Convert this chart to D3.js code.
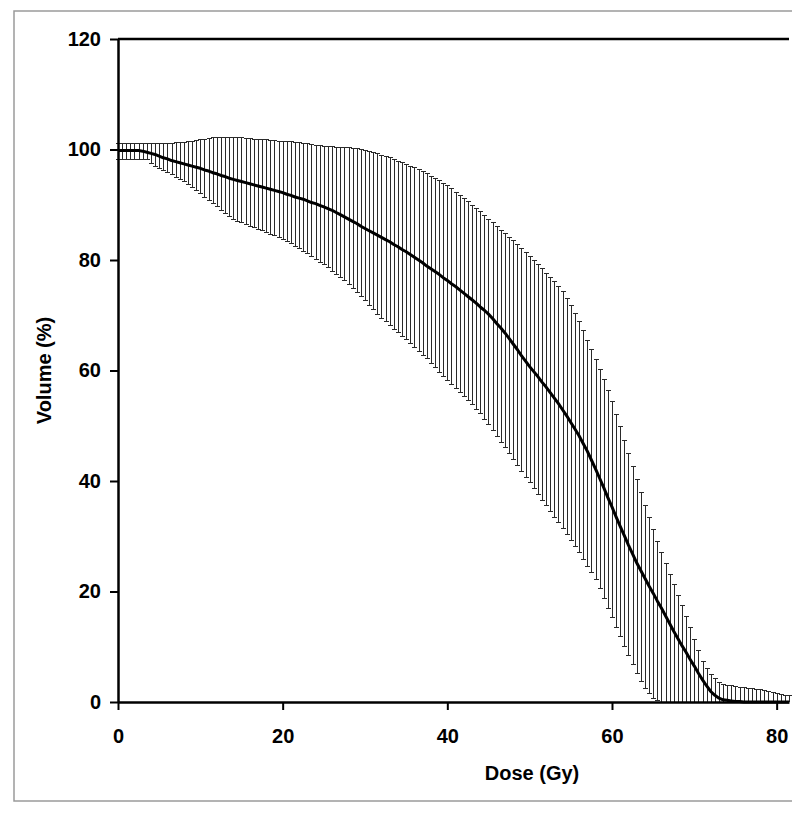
<!DOCTYPE html>
<html>
<head>
<meta charset="utf-8">
<script src="https://cdn.jsdelivr.net/npm/d3@7"></script>
<style>
  body { margin: 0; background: #fff; }
  svg { display: block; font-family: "Liberation Sans", Arial, sans-serif; }
</style>
</head>
<body>
<div id="chart"></div>
<script>
// dose bins (Gy), one error bar every 0.5 Gy
const doses = [
  0, 0.5, 1, 1.5, 2, 2.5, 3, 3.5, 4, 4.5, 5, 5.5, 6, 6.5, 7, 7.5, 8, 8.5, 9, 9.5,
  10, 10.5, 11, 11.5, 12, 12.5, 13, 13.5, 14, 14.5, 15, 15.5, 16, 16.5, 17, 17.5, 18, 18.5, 19, 19.5,
  20, 20.5, 21, 21.5, 22, 22.5, 23, 23.5, 24, 24.5, 25, 25.5, 26, 26.5, 27, 27.5, 28, 28.5, 29, 29.5,
  30, 30.5, 31, 31.5, 32, 32.5, 33, 33.5, 34, 34.5, 35, 35.5, 36, 36.5, 37, 37.5, 38, 38.5, 39, 39.5,
  40, 40.5, 41, 41.5, 42, 42.5, 43, 43.5, 44, 44.5, 45, 45.5, 46, 46.5, 47, 47.5, 48, 48.5, 49, 49.5,
  50, 50.5, 51, 51.5, 52, 52.5, 53, 53.5, 54, 54.5, 55, 55.5, 56, 56.5, 57, 57.5, 58, 58.5, 59, 59.5,
  60, 60.5, 61, 61.5, 62, 62.5, 63, 63.5, 64, 64.5, 65, 65.5, 66, 66.5, 67, 67.5, 68, 68.5, 69, 69.5,
  70, 70.5, 71, 71.5, 72, 72.5, 73, 73.5, 74, 74.5, 75, 75.5, 76, 76.5, 77, 77.5, 78, 78.5, 79, 79.5,
  80, 80.5, 81, 81.5
];
// mean volume (%)
const meanVol = [
  99.8, 99.8, 99.8, 99.8, 99.8, 99.8, 99.7, 99.5, 99.3, 99.1, 98.8, 98.5, 98.3, 98.0, 97.8, 97.6, 97.4, 97.2, 97.0, 96.8,
  96.6, 96.3, 96.1, 95.8, 95.6, 95.3, 95.1, 94.8, 94.6, 94.4, 94.2, 94.0, 93.8, 93.6, 93.4, 93.2, 93.0, 92.8, 92.6, 92.4,
  92.2, 91.9, 91.7, 91.4, 91.2, 91.0, 90.7, 90.4, 90.2, 89.9, 89.6, 89.3, 89.0, 88.6, 88.2, 87.8, 87.4, 87.0, 86.6, 86.1,
  85.7, 85.3, 84.9, 84.5, 84.1, 83.7, 83.3, 82.8, 82.4, 81.9, 81.5, 81.0, 80.5, 80.0, 79.5, 78.9, 78.4, 77.9, 77.4, 76.8,
  76.3, 75.7, 75.2, 74.6, 74.0, 73.4, 72.8, 72.2, 71.5, 70.9, 70.2, 69.4, 68.5, 67.7, 66.8, 65.8, 64.8, 63.8, 62.7, 61.7,
  60.7, 59.8, 58.9, 57.9, 57.0, 56.0, 55.0, 54.0, 52.9, 51.8, 50.6, 49.4, 48.2, 46.8, 45.4, 43.8, 42.2, 40.5, 38.8, 37.0,
  35.3, 33.5, 31.8, 30.1, 28.4, 26.8, 25.2, 23.8, 22.4, 21.0, 19.7, 18.3, 17.0, 15.6, 14.2, 12.8, 11.5, 10.2, 9.0, 7.7,
  6.5, 5.2, 4.0, 2.9, 1.9, 1.2, 0.7, 0.4, 0.3, 0.2, 0.1, 0.1, 0, 0, 0, 0, 0, 0, 0, 0,
  0, 0, 0, 0
];
// mean + SD
const upperVol = [
  101.0, 101.0, 101.0, 101.0, 101.0, 101.0, 101.0, 101.0, 101.0, 101.0, 101.1, 101.1, 101.1, 101.1, 101.2, 101.2, 101.3, 101.4, 101.5, 101.6,
  101.8, 101.9, 102.0, 102.1, 102.1, 102.2, 102.2, 102.2, 102.2, 102.1, 102.1, 102.0, 102.0, 101.9, 101.9, 101.8, 101.8, 101.7, 101.6, 101.5,
  101.5, 101.4, 101.4, 101.3, 101.2, 101.1, 101.0, 100.9, 100.8, 100.7, 100.6, 100.5, 100.5, 100.4, 100.4, 100.3, 100.3, 100.2, 100.1, 100.0,
  99.8, 99.6, 99.4, 99.2, 99.0, 98.7, 98.5, 98.2, 97.9, 97.6, 97.3, 97.0, 96.7, 96.3, 96.0, 95.6, 95.2, 94.8, 94.3, 93.9,
  93.4, 92.9, 92.3, 91.7, 91.1, 90.5, 89.9, 89.3, 88.7, 88.0, 87.4, 86.8, 86.1, 85.4, 84.8, 84.1, 83.5, 82.8, 82.1, 81.4,
  80.6, 79.9, 79.1, 78.4, 77.6, 76.9, 76.1, 75.2, 74.3, 73.1, 71.8, 70.3, 68.8, 67.2, 65.5, 63.8, 62.0, 60.2, 58.3, 56.3,
  54.3, 52.1, 49.8, 47.4, 45.0, 42.6, 40.2, 37.9, 35.6, 33.4, 31.2, 29.1, 27.0, 25.0, 23.1, 21.2, 19.3, 17.4, 15.5, 13.4,
  11.3, 9.3, 7.3, 6.0, 5.0, 4.2, 3.6, 3.2, 3.0, 2.9, 2.8, 2.7, 2.6, 2.5, 2.5, 2.3, 2.2, 2.0, 1.9, 1.7,
  1.5, 1.4, 1.2, 1.1
];
// mean - SD
const lowerVol = [
  98.1, 98.1, 98.1, 98.1, 98.1, 98.1, 98.1, 98.1, 97.5, 97.0, 96.6, 96.2, 95.8, 95.4, 95.0, 94.6, 94.2, 93.7, 93.2, 92.6,
  92.0, 91.4, 90.8, 90.2, 89.6, 89.0, 88.4, 87.9, 87.4, 87.0, 86.7, 86.4, 86.1, 85.8, 85.6, 85.3, 85.0, 84.7, 84.4, 84.0,
  83.7, 83.3, 82.9, 82.5, 82.0, 81.6, 81.1, 80.6, 80.1, 79.6, 79.1, 78.6, 78.0, 77.4, 76.8, 76.2, 75.5, 74.8, 74.1, 73.4,
  72.6, 71.8, 71.0, 70.2, 69.5, 68.8, 68.2, 67.5, 66.9, 66.2, 65.6, 64.9, 64.2, 63.5, 62.8, 62.1, 61.3, 60.5, 59.7, 59.0,
  58.2, 57.5, 56.8, 56.0, 55.3, 54.5, 53.8, 53.0, 52.2, 51.2, 50.2, 49.1, 48.1, 47.0, 46.0, 44.9, 43.9, 42.8, 41.8, 40.7,
  39.7, 38.6, 37.6, 36.5, 35.5, 34.4, 33.4, 32.4, 31.4, 30.3, 29.2, 28.1, 27.0, 25.8, 24.6, 23.4, 22.1, 20.5, 18.8, 17.0,
  15.3, 13.5, 11.8, 10.1, 8.5, 6.8, 5.2, 3.8, 2.5, 1.5, 0.7, 0.2, 0, 0, 0, 0, 0, 0, 0, 0,
  0, 0, 0, 0, 0, 0, 0, 0, 0, 0, 0, 0, 0, 0, 0, 0, 0, 0, 0, 0,
  0, 0, 0, 0
];
const xTicks = [0, 20, 40, 60, 80];
const yTicks = [0, 20, 40, 60, 80, 100, 120];

const data = doses.map((d, i) => ({dose: d, mean: meanVol[i], hi: upperVol[i], lo: lowerVol[i]}));

const W = 800, H = 815;
const margin = {left: 118, right: 11, top: 39, bottom: 113};
const fontSize = "20px";

const svg = d3.select("#chart").append("svg")
  .attr("width", W)
  .attr("height", H);

// outer grey frame (open on the right, like the cropped original)
svg.append("path")
  .attr("d", "M792,11H14V801H792")
  .attr("stroke", "#9a9a9a")
  .attr("stroke-width", 1.5)
  .attr("fill", "none");

const x = d3.scaleLinear()
  .domain([0, 81.5])
  .range([margin.left, W - margin.right]);
const y = d3.scaleLinear()
  .domain([0, 120])
  .range([H - margin.bottom, margin.top]);

// error bars
const bx = d => Math.round(x(d.dose)) + 0.5;
const capW = 2.5;
const bars = svg.append("g")
  .attr("stroke", "#2a2a2a")
  .attr("stroke-width", 1)
  .attr("shape-rendering", "crispEdges");
bars.selectAll("line.v")
  .data(data)
  .join("line")
    .classed("v", true)
    .attr("x1", bx)
    .attr("x2", bx)
    .attr("y1", d => y(d.lo))
    .attr("y2", d => y(d.hi));
bars.selectAll("line.capHi")
  .data(data)
  .join("line")
    .classed("capHi", true)
    .attr("x1", d => bx(d) - capW)
    .attr("x2", d => bx(d) + capW)
    .attr("y1", d => y(d.hi))
    .attr("y2", d => y(d.hi));
bars.selectAll("line.capLo")
  .data(data.filter(d => d.lo > 0))
  .join("line")
    .classed("capLo", true)
    .attr("x1", d => bx(d) - capW)
    .attr("x2", d => bx(d) + capW)
    .attr("y1", d => y(d.lo))
    .attr("y2", d => y(d.lo));

// mean curve
svg.append("path")
  .datum(data)
  .attr("fill", "none")
  .attr("stroke", "#000")
  .attr("stroke-width", 3)
  .attr("stroke-linejoin", "round")
  .attr("d", d3.line().x(d => x(d.dose)).y(d => y(d.mean)));

// top border of plot area
svg.append("line")
  .attr("x1", x(0)).attr("x2", x(81.5))
  .attr("y1", y(120)).attr("y2", y(120))
  .attr("stroke", "#000")
  .attr("stroke-width", 2.5);

// axes
const yAxis = svg.append("g")
  .attr("transform", `translate(${x(0)},0)`)
  .call(d3.axisLeft(y).tickValues(yTicks).tickSize(8).tickSizeOuter(0).tickPadding(9));
const xAxis = svg.append("g")
  .attr("transform", `translate(0,${y(0)})`)
  .call(d3.axisBottom(x).tickValues(xTicks).tickSize(8).tickSizeOuter(0).tickPadding(19));

[yAxis, xAxis].forEach(g => {
  g.select(".domain").attr("stroke", "#000").attr("stroke-width", 2.5);
  g.selectAll(".tick line").attr("stroke", "#000").attr("stroke-width", 2);
  g.selectAll(".tick text")
    .attr("fill", "#000")
    .style("font-family", "'Liberation Sans', Arial, sans-serif")
    .style("font-size", fontSize)
    .style("font-weight", "bold");
});

// axis titles
svg.append("text")
  .attr("x", 532)
  .attr("y", 780)
  .attr("text-anchor", "middle")
  .style("font-size", fontSize)
  .style("font-weight", "bold")
  .text("Dose (Gy)");
svg.append("text")
  .attr("transform", `translate(51,${(y(0) + y(120)) / 2}) rotate(-90)`)
  .attr("text-anchor", "middle")
  .style("font-size", fontSize)
  .style("font-weight", "bold")
  .text("Volume (%)");
</script>
</body>
</html>
